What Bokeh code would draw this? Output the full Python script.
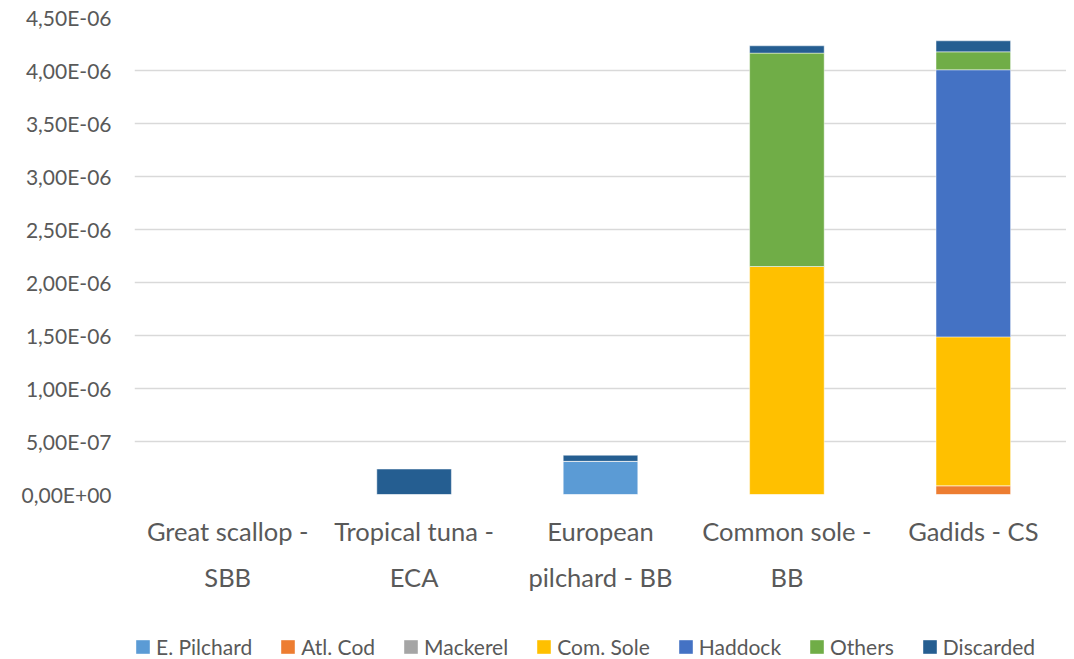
from bokeh.plotting import figure
from bokeh.layouts import column
from bokeh.models import ColumnDataSource, FixedTicker, Legend, LegendItem, Range1d
from bokeh.embed import file_html
from bokeh.resources import INLINE

categories = ["Great scallop -\nSBB", "Tropical tuna -\nECA", "European\npilchard - BB",
              "Common sole -\nBB", "Gadids - CS"]
series = ["E. Pilchard", "Atl. Cod", "Mackerel", "Com. Sole", "Haddock", "Others", "Discarded"]
colors = ["#5B9BD5", "#ED7D31", "#A5A5A5", "#FFC000", "#4472C4", "#70AD47", "#255E91"]

e_pilchard = [0.0, 0.0, 3.13e-07, 0.0, 0.0]
atl_cod = [0.0, 0.0, 0.0, 0.0, 8.3e-08]
mackerel = [0.0, 0.0, 0.0, 0.0, 0.0]
com_sole = [0.0, 0.0, 0.0, 2.151e-06, 1.404e-06]
haddock = [0.0, 0.0, 0.0, 0.0, 2.52e-06]
others = [0.0, 0.0, 0.0, 2.013e-06, 1.69e-07]
discarded = [0.0, 2.4e-07, 5.7e-08, 6.9e-08, 1.04e-07]

y_ticks = [0.0, 5e-07, 1e-06, 1.5e-06, 2e-06, 2.5e-06, 3e-06, 3.5e-06, 4e-06, 4.5e-06]
y_tick_labels = ["0,00E+00", "5,00E-07", "1,00E-06", "1,50E-06", "2,00E-06",
                 "2,50E-06", "3,00E-06", "3,50E-06", "4,00E-06", "4,50E-06"]

data = {"cat": categories}
keys = ["e_pilchard", "atl_cod", "mackerel", "com_sole", "haddock", "others", "discarded"]
for k, v in zip(keys, [e_pilchard, atl_cod, mackerel, com_sole, haddock, others, discarded]):
    data[k] = v
source = ColumnDataSource(data)

font = "Lato"
W = 1066

p = figure(x_range=categories, y_range=Range1d(0, 4.5e-06), width=W, height=600,
           output_backend="svg", toolbar_location=None,
           min_border_left=134, min_border_right=0, min_border_top=17, min_border_bottom=106)
p.outline_line_color = None
p.background_fill_color = "white"
p.border_fill_color = "white"

p.vbar_stack(keys, x="cat", width=0.4, source=source, color=colors,
             line_color="white", line_alpha=0.45, line_width=1)

p.yaxis.ticker = FixedTicker(ticks=y_ticks)
p.yaxis.major_label_overrides = {t: l for t, l in zip(y_ticks, y_tick_labels)}
p.yaxis.major_label_text_font = font
p.yaxis.major_label_text_font_size = "21px"
p.yaxis.major_label_text_color = "#595959"
p.yaxis.major_label_standoff = 17
p.yaxis.axis_line_color = None
p.yaxis.major_tick_line_color = None
p.yaxis.minor_tick_line_color = None

p.xaxis.major_label_text_font = font
p.xaxis.major_label_text_font_size = "25.5px"
p.xaxis.major_label_text_color = "#595959"
p.xaxis.major_label_text_line_height = 1.54
p.xaxis.major_label_standoff = 15
p.xaxis.axis_line_color = None
p.xaxis.major_tick_line_color = None
p.xaxis.minor_tick_line_color = None

p.xgrid.grid_line_color = None
p.ygrid.grid_line_color = "#D9D9D9"
p.ygrid.grid_line_width = 1.5

# legend strip below the chart (legend swatches are off-frame proxies)
lg = figure(x_range=Range1d(0, 1), y_range=Range1d(0, 1), width=W, height=59,
            output_backend="svg", toolbar_location=None,
            x_axis_location=None, y_axis_location=None,
            min_border_left=0, min_border_right=0, min_border_top=0, min_border_bottom=0)
lg.outline_line_color = None
lg.grid.visible = False
proxy_src = ColumnDataSource(dict(x=[5.0], top=[0.0]))
proxies = [lg.vbar(x="x", top="top", width=0.4, source=proxy_src, color=c, line_color=None)
           for c in colors]
items = [LegendItem(label=s, renderers=[r]) for s, r in zip(series, proxies)]
legend = Legend(items=items, orientation="horizontal", location=(0, 0),
                glyph_width=17, glyph_height=17, label_standoff=5, spacing=27,
                padding=0, margin=0, border_line_color=None, background_fill_alpha=0,
                label_text_font=font, label_text_font_size="21px", label_text_color="#595959",
                label_height=24)
lg.add_layout(legend, "center")

open("out.html", "w").write(file_html(column(p, lg, spacing=0), INLINE))
